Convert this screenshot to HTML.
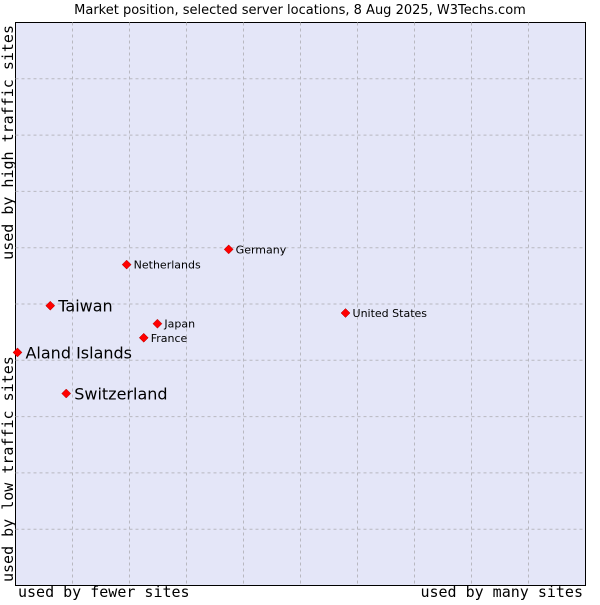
<!DOCTYPE html>
<html><head><meta charset="utf-8"><style>
body{margin:0;background:#fff;width:600px;height:600px;overflow:hidden}
svg text{font-family:"DejaVu Sans","Liberation Sans",sans-serif}
.mono{font-family:"DejaVu Sans Mono","Liberation Mono",monospace}
</style></head><body>
<svg id="chart" width="600" height="600" xmlns="http://www.w3.org/2000/svg">
<text x="300" y="14" text-anchor="middle" font-size="13" fill="#000">Market position, selected server locations, 8 Aug 2025, W3Techs.com</text>
<rect x="15.5" y="22.5" width="570" height="563" fill="#e4e6f8" stroke="#000" stroke-width="1"/>
<g id="grid"></g>
<g id="points"></g>
<text class="mono" x="18" y="597" font-size="15">used by fewer sites</text>
<text class="mono" x="583" y="597" font-size="15" text-anchor="end">used by many sites</text>
<text class="mono" transform="translate(13,582) rotate(-90)" font-size="15">used by low traffic sites</text>
<text class="mono" transform="translate(13,25) rotate(-90)" font-size="15" text-anchor="end">used by high traffic sites</text>
</svg>
<script>
const names=["Aland Islands","Taiwan","Switzerland","Netherlands","Germany","Japan","France","United States"];
const xValues=[0.35,6.1,8.9,19.5,37.4,24.9,22.5,57.9];
const yValues=[41.4,49.7,34.1,57.0,59.7,46.5,44.0,48.4];
const bigLabel=[true,true,true,false,false,false,false,false];
const X0=15.5,X1=585.5,Y0=585.5,Y1=22.5;
const sx=v=>X0+(X1-X0)*v/100, sy=v=>Y0-(Y0-Y1)*v/100;
const NS="http://www.w3.org/2000/svg";
const grid=document.getElementById('grid');
for(let i=1;i<10;i++){
 let l=document.createElementNS(NS,'line');
 
 
 l.setAttribute('x1',sx(i*10));l.setAttribute('x2',sx(i*10));l.setAttribute('y1',Y1);l.setAttribute('y2',Y0);
 l.setAttribute('stroke','#b8b8c0');l.setAttribute('stroke-dasharray','3,3');grid.appendChild(l);
 let h=document.createElementNS(NS,'line');
 
 
 h.setAttribute('y1',sy(i*10));h.setAttribute('y2',sy(i*10));h.setAttribute('x1',X0);h.setAttribute('x2',X1);
 h.setAttribute('stroke','#b8b8c0');h.setAttribute('stroke-dasharray','3,3');grid.appendChild(h);
}
const pts=document.getElementById('points');
names.forEach((n,i)=>{
 const x=sx(xValues[i]),y=sy(yValues[i]);
 const d=document.createElementNS(NS,'path');
 
 
 d.setAttribute('d',`M${x} ${y-4.5}L${x+4.5} ${y}L${x} ${y+4.5}L${x-4.5} ${y}Z`);
 d.setAttribute('fill','#f00');d.setAttribute('stroke','#a00');d.setAttribute('stroke-width','0.5');
 pts.appendChild(d);
 const t=document.createElementNS(NS,'text');
 
 
 const big=bigLabel[i];
 t.setAttribute('x',x+(big?8:7));t.setAttribute('y',y+(big?6:4));
 t.setAttribute('font-size',big?16:11);
 t.textContent=n;pts.appendChild(t);
});
</script>
</body></html>
